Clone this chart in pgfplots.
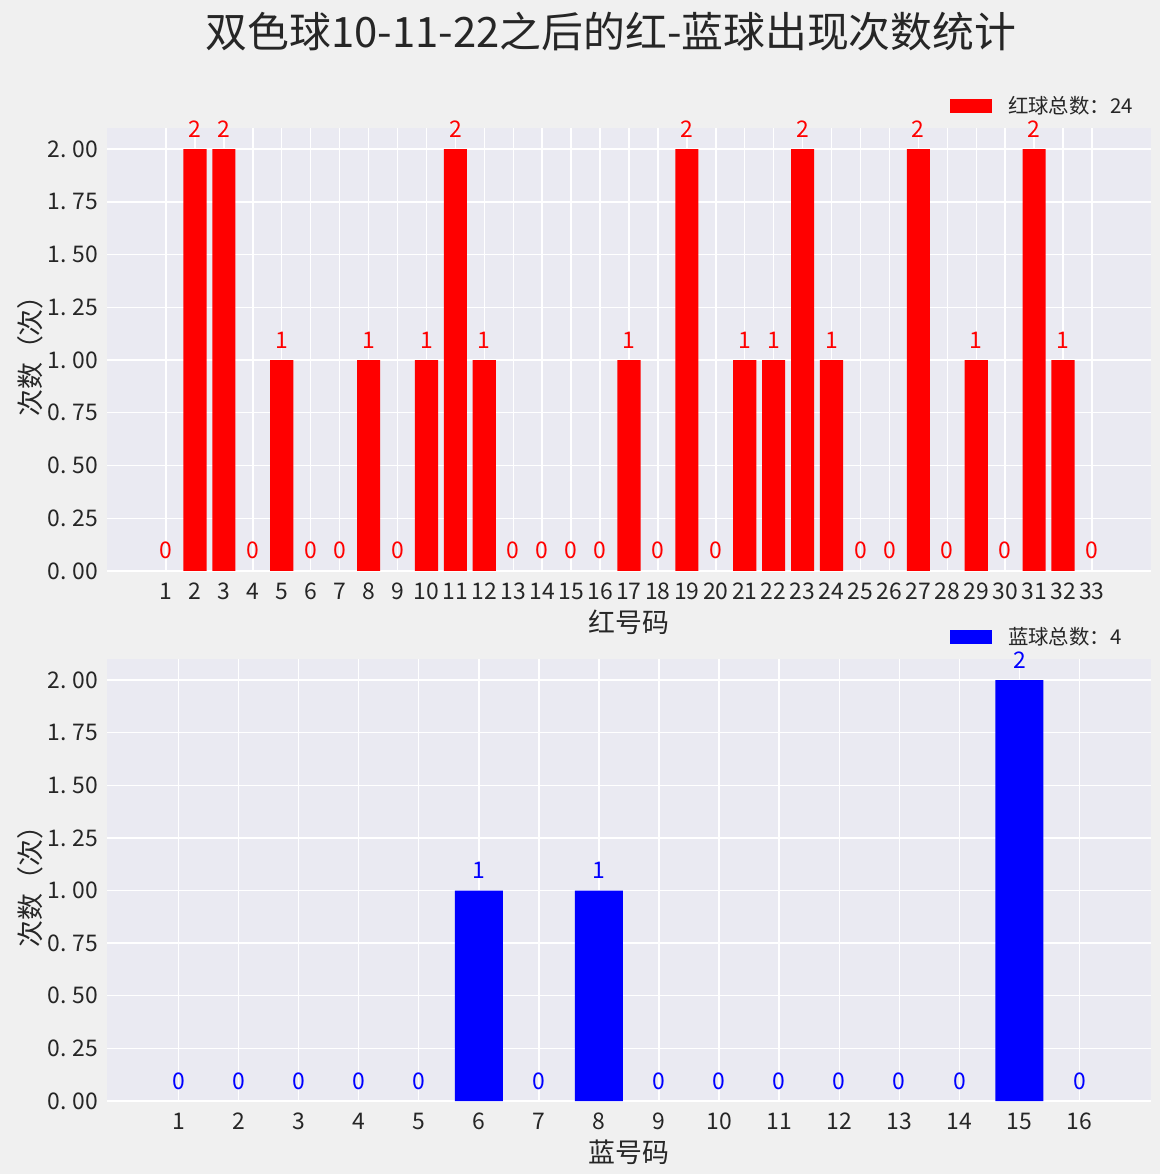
\documentclass[border=0pt]{standalone}
\usepackage{pgfplots}
\pgfplotsset{compat=1.18}
\usepackage{fontspec}
\setmainfont{Noto Sans CJK SC}

\definecolor{figbg}{HTML}{F0F0F0}
\definecolor{axbg}{HTML}{EAEAF2}
\definecolor{txt}{HTML}{262626}

\newcommand{\tickfont}{\fontsize{23}{23}\selectfont}
\newcommand{\labfont}{\fontsize{27}{27}\selectfont}
\newcommand{\legfont}{\fontsize{20.5}{20.5}\selectfont}

\pgfplotsset{
  lotto/.style={
    scale only axis, width=1044bp,
    anchor=south west,
    ybar, bar width=0.8, bar shift=0pt,
    ymin=0, ymax=2.1,
    ytick={0,0.25,0.5,0.75,1,1.25,1.5,1.75,2},
    axis background/.style={fill=axbg},
    axis line style={draw=none},
    major tick length=0pt,
    grid=major,
    major grid style={white, line width=1.4bp},
    clip=false,
    /pgf/number format/assume math mode=true,
    xticklabel={\pgfmathprintnumber{\tick}},
    yticklabel={\pgfmathprintnumber[fixed, fixed zerofill, precision=2, dec sep={.\kern0.25em}]{\tick}},
    xticklabel style={font=\tickfont, text=txt, anchor=north, inner sep=0pt, yshift=-12bp},
    yticklabel style={font=\tickfont, text=txt, anchor=east, inner sep=0pt, xshift=-9bp},
    every axis x label/.style={at={(axis description cs:0.5,-0.115)}, anchor=center, font=\labfont, text=txt},
    every axis y label/.style={at={(axis description cs:-0.0738,0.5)}, anchor=center, rotate=90, font=\labfont, text=txt},
    ylabel={次数（次）},
    legend style={at={(axis description cs:0.8075,1.05)}, anchor=west, draw=none, fill=none,
      inner sep=0pt, outer sep=0pt, font=\legfont, text=txt, nodes={inner sep=0pt}},
    legend cell align=left,
  },
  % invisible copy of a series that only carries the value labels
  counts/.style={draw=none, fill=none, forget plot, point meta=y,
    nodes near coords={\pgfmathprintnumber{\pgfplotspointmeta}},
    every node near coord/.append style={font=\tickfont, text=#1, anchor=base,
      inner sep=0pt, yshift=12bp}},
}

\begin{document}
\begin{tikzpicture}
\fill[figbg] (0,0) rectangle (1160bp,1174bp);

\node[font=\fontsize{42}{42}\selectfont, text=txt] at (611bp,1142.5bp)
  {双色球10-11-22之后的红-蓝球出现次数统计};

% red balls
\begin{axis}[lotto, at={(107bp,603bp)}, height=443bp,
    xmin=-1.04, xmax=35.04,
    xtick={1,2,...,33},
    xlabel={红号码}]
  \addplot[fill=red, draw=none,
    legend image code/.code={\fill[red] (0bp,-7bp) rectangle (42bp,7bp); \path (58bp,0bp);}]
    coordinates {
      (2,2) (3,2) (5,1) (8,1) (10,1) (11,2) (12,1) (17,1) (19,2)
      (21,1) (22,1) (23,2) (24,1) (27,2) (29,1) (31,2) (32,1)
    };
  \addlegendentry{红球总数：24}
  \addplot[counts=red] coordinates {
      (1,0) (2,2) (3,2) (4,0) (5,1) (6,0) (7,0) (8,1) (9,0) (10,1)
      (11,2) (12,1) (13,0) (14,0) (15,0) (16,0) (17,1) (18,0) (19,2) (20,0)
      (21,1) (22,1) (23,2) (24,1) (25,0) (26,0) (27,2) (28,0) (29,1) (30,0)
      (31,2) (32,1) (33,0)
    };
\end{axis}

% blue balls
\begin{axis}[lotto, at={(107bp,73bp)}, height=442bp,
    xmin=-0.19, xmax=17.19,
    xtick={1,2,...,16},
    xlabel={蓝号码}]
  \addplot[fill=blue, draw=none,
    legend image code/.code={\fill[blue] (0bp,-7bp) rectangle (42bp,7bp); \path (58bp,0bp);}]
    coordinates {(6,1) (8,1) (15,2)};
  \addlegendentry{蓝球总数：4}
  \addplot[counts=blue] coordinates {
      (1,0) (2,0) (3,0) (4,0) (5,0) (6,1) (7,0) (8,1) (9,0) (10,0)
      (11,0) (12,0) (13,0) (14,0) (15,2) (16,0)
    };
\end{axis}
\end{tikzpicture}
\end{document}
